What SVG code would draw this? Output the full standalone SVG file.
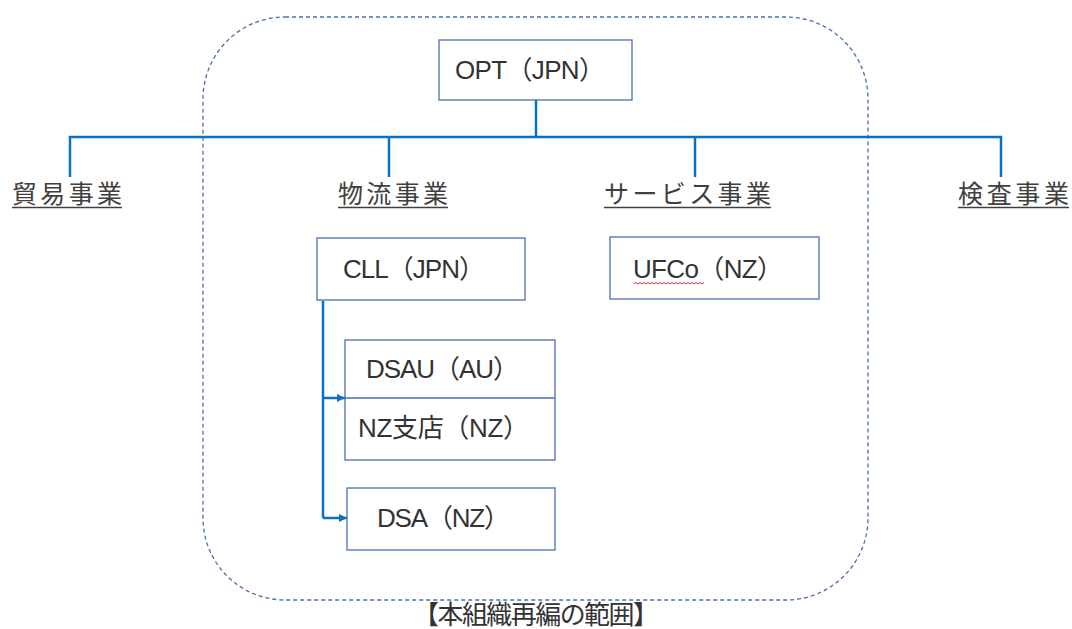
<svg xmlns="http://www.w3.org/2000/svg" width="1072" height="629" viewBox="0 0 1072 629">
<style>
  .box { fill: #ffffff; stroke: #4a6fb0; stroke-width: 1.3; }
  .t { font-family: "Liberation Sans", "Noto Sans CJK JP", sans-serif; font-size: 26px; fill: #333333; }
  .cat { font-family: "Liberation Sans", "Noto Sans CJK JP", sans-serif; font-size: 25px; fill: #404040; }
  .ul { stroke: #404040; stroke-width: 1.3; }
  .conn { fill: none; stroke: #0a70c0; stroke-width: 2.5; }
  .scope { fill: none; stroke: #4a6fb0; stroke-width: 1.3; stroke-dasharray: 4 3; }
</style>
<defs>
  <marker id="arr" viewBox="0 0 8 8" refX="8" refY="4" markerWidth="8" markerHeight="8" markerUnits="userSpaceOnUse" orient="auto">
    <path d="M0,0 L8,4 L0,8 z" fill="#0a70c0"/>
  </marker>
</defs>
<rect width="1072" height="629" fill="#ffffff"/>

<g id="scope">
  <rect class="scope" x="203" y="17" width="665" height="583" rx="82" ry="82"/>
  <text class="t" x="413" y="624" font-size="24" textLength="246" lengthAdjust="spacing">【本組織再編の範囲】</text>
</g>

<g id="connectors">
  <path class="conn" d="M536,100 V137"/>
  <path class="conn" d="M70,177 V137 H1001 V177"/>
  <path class="conn" d="M389,137 V177"/>
  <path class="conn" d="M695,137 V177"/>
  <path class="conn" d="M323,301 V518"/>
  <path class="conn" d="M323,398 H345" marker-end="url(#arr)"/>
  <path class="conn" d="M323,518 H347" marker-end="url(#arr)"/>
</g>

<g id="opt">
  <rect class="box" x="439" y="40" width="193" height="60"/>
  <text class="t" x="455" y="79" textLength="150" lengthAdjust="spacing">OPT（JPN）</text>
</g>

<g id="cat-trade">
  <text class="cat" x="12" y="203" textLength="110" lengthAdjust="spacing">貿易事業</text>
  <line class="ul" x1="12" y1="207.5" x2="122" y2="207.5"/>
</g>
<g id="cat-logistics">
  <text class="cat" x="338" y="203" textLength="110" lengthAdjust="spacing">物流事業</text>
  <line class="ul" x1="338" y1="207.5" x2="448" y2="207.5"/>
</g>
<g id="cat-service">
  <text class="cat" x="604" y="203" textLength="167" lengthAdjust="spacing">サービス事業</text>
  <line class="ul" x1="604" y1="207.5" x2="771" y2="207.5"/>
</g>
<g id="cat-inspection">
  <text class="cat" x="958" y="203" textLength="111" lengthAdjust="spacing">検査事業</text>
  <line class="ul" x1="958" y1="207.5" x2="1069" y2="207.5"/>
</g>

<g id="cll">
  <rect class="box" x="317" y="238" width="208" height="62"/>
  <text class="t" x="343" y="278" textLength="142" lengthAdjust="spacing">CLL（JPN）</text>
</g>

<g id="ufco">
  <rect class="box" x="610" y="237" width="209" height="62"/>
  <text class="t" x="633" y="278" textLength="150" lengthAdjust="spacing">UFCo（NZ）</text>
  <path d="M634,284 l2,-1.5 l2,1.5 l2,-1.5 l2,1.5 l2,-1.5 l2,1.5 l2,-1.5 l2,1.5 l2,-1.5 l2,1.5 l2,-1.5 l2,1.5 l2,-1.5 l2,1.5 l2,-1.5 l2,1.5 l2,-1.5 l2,1.5 l2,-1.5 l2,1.5 l2,-1.5 l2,1.5 l2,-1.5 l2,1.5 l2,-1.5 l2,1.5 l2,-1.5 l2,1.5 l2,-1.5 l2,1.5 l2,-1.5 l2,1.5 l2,-1.5 l2,1.5 l2,-1.5" fill="none" stroke="#e03030" stroke-width="1"/>
</g>

<g id="dsau-nz">
  <rect class="box" x="345" y="340" width="210" height="120"/>
  <line class="box" x1="345" y1="398" x2="555" y2="398"/>
  <text class="t" x="366" y="378" textLength="153" lengthAdjust="spacing">DSAU（AU）</text>
  <text class="t" x="358" y="437" textLength="171" lengthAdjust="spacing">NZ支店（NZ）</text>
</g>

<g id="dsa">
  <rect class="box" x="347" y="488" width="208" height="62"/>
  <text class="t" x="377" y="527" textLength="133" lengthAdjust="spacing">DSA（NZ）</text>
</g>
</svg>
